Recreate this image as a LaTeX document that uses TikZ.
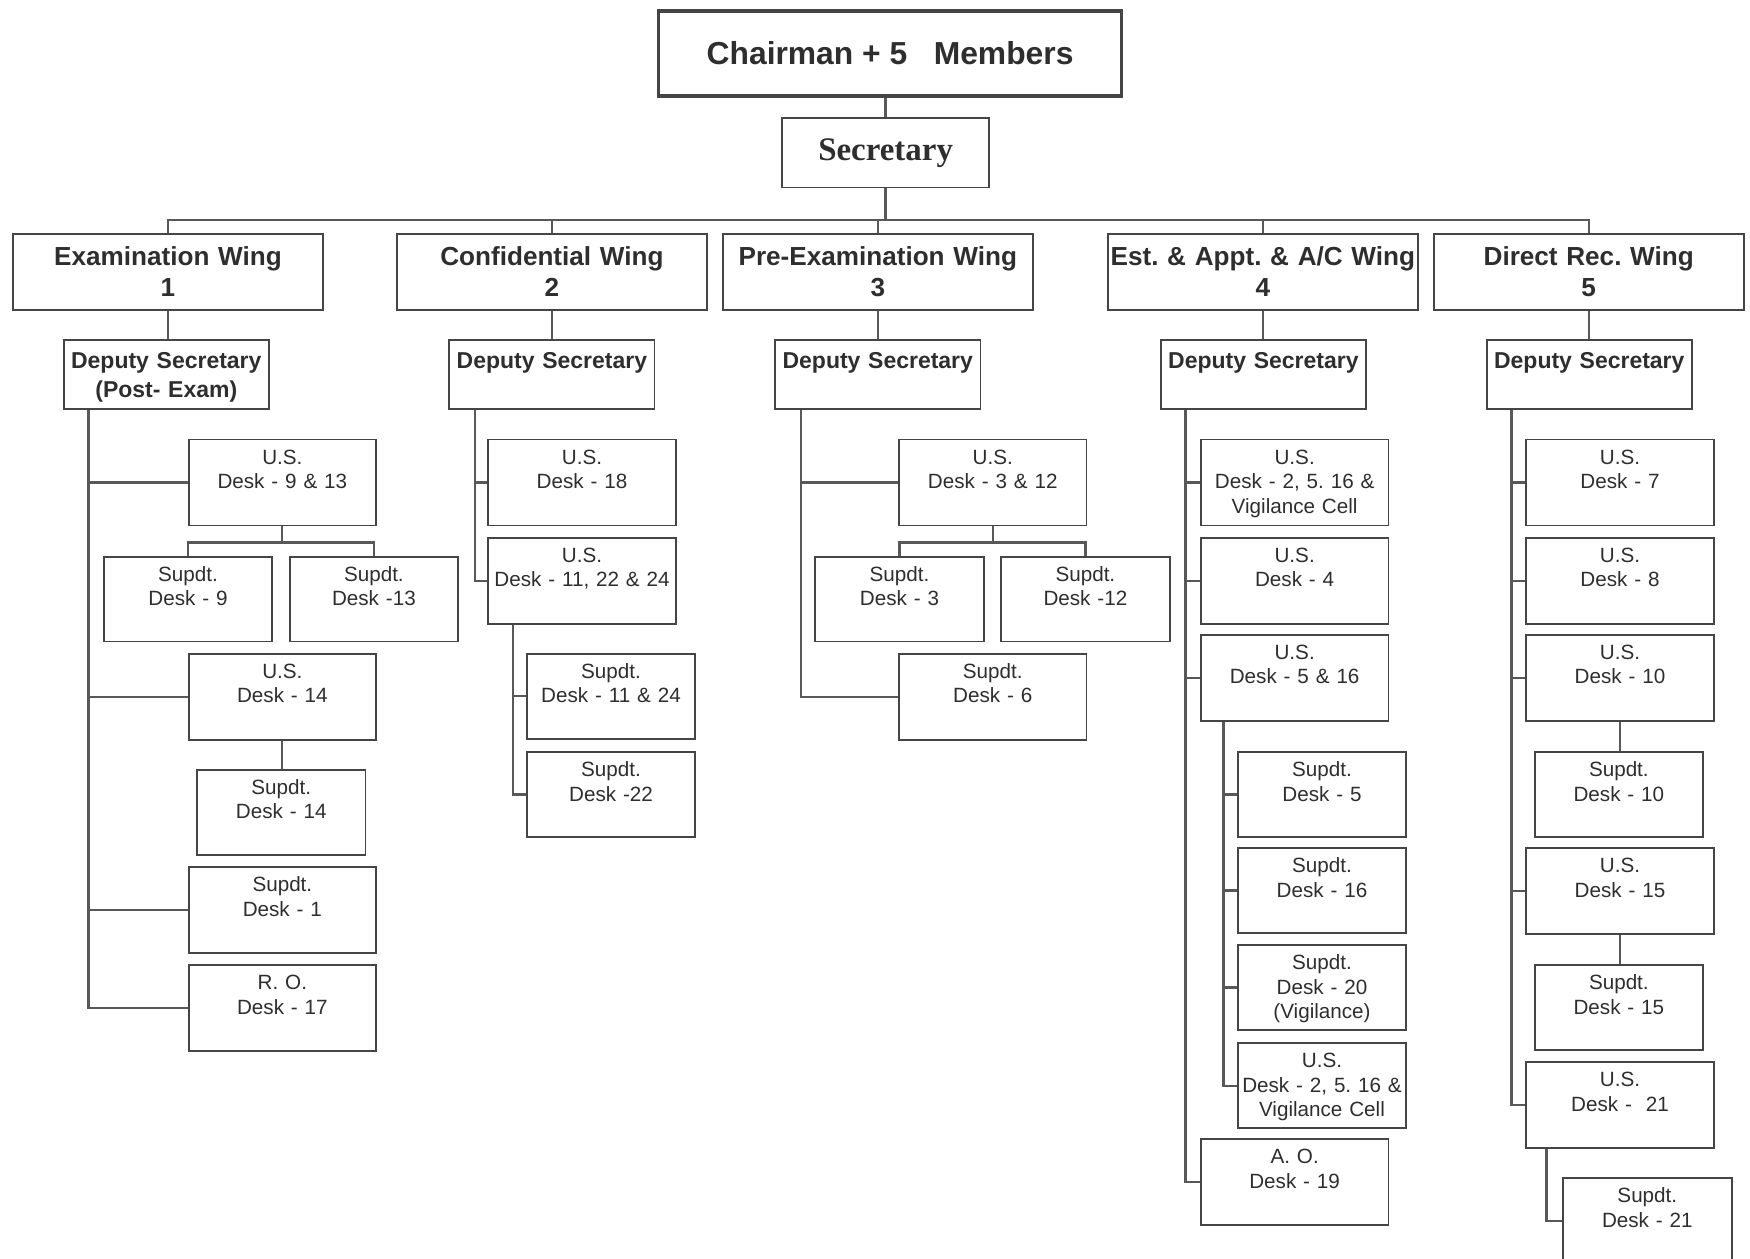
\documentclass[tikz,border=0pt]{standalone}
\usepackage{fontspec}
\setmainfont{Liberation Sans}
\newfontfamily\timesfont{Liberation Serif}
\usepackage{tikz}
\frenchspacing

\definecolor{boxline}{HTML}{454545}
\definecolor{linkgray}{HTML}{585858}
\definecolor{ink}{HTML}{2E2E2E}

\newcommand{\chairfont}{\fontsize{28.5}{34}\selectfont\bfseries}
\newcommand{\secfont}{\timesfont\fontsize{29.5}{34}\selectfont\bfseries}
\newcommand{\wingfont}{\fontsize{23.4}{28}\selectfont\bfseries}
\newcommand{\deputyfont}{\fontsize{20.6}{26}\selectfont\bfseries}
\newcommand{\deskfont}{\fontsize{18.5}{22}\selectfont}

\begin{document}
\begin{tikzpicture}[x=1pt,y=-1pt]
\tikzset{box/.style={draw=boxline,line width=1.6pt,inner sep=0pt,anchor=north,align=center,text=ink}}
\tikzset{wing/.style={box,text width=278pt,text height=28pt,text depth=40pt,font=\wingfont}}
\tikzset{deputy/.style={box,text width=184pt,text height=25.5pt,text depth=36.5pt,font=\deputyfont}}
\tikzset{deskL/.style={box,text width=168pt,text height=22pt,text depth=55pt,font=\deskfont}}
\tikzset{deskS/.style={box,text width=151pt,text height=22pt,text depth=54pt,font=\deskfont}}
\tikzset{link/.style={draw=linkgray,line width=2pt}}
\useasboundingbox (0,0) rectangle (1568,1128);
\clip (0,0) rectangle (1568,1128);

% top of the chart
\node[box,anchor=center,line width=3.2pt,minimum width=415pt,minimum height=76pt,font=\chairfont] (chair) at (797.5,48) {Chairman + 5\ \ \ Members};
\node[box,anchor=center,minimum width=185pt,minimum height=62pt,font=\secfont] (sec) at (793.5,137) {Secretary};

% wings
\node[wing] (w1) at (150.5,209) {Examination Wing\\1};
\node[wing] (w2) at (494.5,209) {Confidential Wing\\2};
\node[wing] (w3) at (786.5,209) {Pre-Examination Wing\\3};
\node[wing] (w4) at (1131.5,209) {Est. \& Appt. \& A/C Wing\\4};
\node[wing] (w5) at (1423.5,209) {Direct Rec. Wing\\5};

\node[deputy] (ds1) at (149,304) {Deputy Secretary\\(Post- Exam)};
\node[deputy] (ds2) at (494.5,304) {Deputy Secretary};
\node[deputy] (ds3) at (786.5,304) {Deputy Secretary};
\node[deputy] (ds4) at (1132,304) {Deputy Secretary};
\node[deputy] (ds5) at (1424,304) {Deputy Secretary};

% wing 1
\node[deskL] (us913) at (253,393) {U.S.\\Desk - 9 \& 13};
\node[deskS] (sd9) at (168.5,498) {Supdt.\\Desk - 9};
\node[deskS] (sd13) at (335,498) {Supdt.\\Desk -13};
\node[deskL] (us14) at (253,585) {U.S.\\Desk - 14};
\node[deskS] (sd14) at (252,689) {Supdt.\\Desk - 14};
\node[deskL] (sd1) at (253,776) {Supdt.\\Desk - 1};
\node[deskL] (ro17) at (253,864) {R. O.\\Desk - 17};

% wing 2
\node[deskL] (us18) at (521.5,393) {U.S.\\Desk - 18};
\node[deskL] (us112224) at (521.5,481) {U.S.\\Desk - 11, 22 \& 24};
\node[deskS] (sd1124) at (547.5,585) {Supdt.\\Desk - 11 \& 24};
\node[deskS] (sd22) at (547.5,673) {Supdt.\\Desk -22};

% wing 3
\node[deskL] (us312) at (889.5,393) {U.S.\\Desk - 3 \& 12};
\node[deskS] (sd3) at (806,498) {Supdt.\\Desk - 3};
\node[deskS] (sd12) at (972.5,498) {Supdt.\\Desk -12};
\node[deskL] (sd6) at (889.5,585) {Supdt.\\Desk - 6};

% wing 4
\node[deskL] (usvig) at (1160,393) {U.S.\\Desk - 2, 5. 16 \&\\Vigilance Cell};
\node[deskL] (us4) at (1160,481) {U.S.\\Desk - 4};
\node[deskL] (us516) at (1160,568) {U.S.\\Desk - 5 \& 16};
\node[deskS] (sd5) at (1184.5,673) {Supdt.\\Desk - 5};
\node[deskS] (sd16) at (1184.5,759) {Supdt.\\Desk - 16};
\node[deskS] (sd20) at (1184.5,846) {Supdt.\\Desk - 20\\(Vigilance)};
\node[deskS] (usvigb) at (1184.5,934) {U.S.\\Desk - 2, 5. 16 \&\\Vigilance Cell};
\node[deskL] (ao19) at (1160,1020) {A. O.\\Desk - 19};

% wing 5
\node[deskL] (us7) at (1451.5,393) {U.S.\\Desk - 7};
\node[deskL] (us8) at (1451.5,481) {U.S.\\Desk - 8};
\node[deskL] (us10) at (1451.5,568) {U.S.\\Desk - 10};
\node[deskS] (sd10) at (1450.5,673) {Supdt.\\Desk - 10};
\node[deskL] (us15) at (1451.5,759) {U.S.\\Desk - 15};
\node[deskS] (sd15) at (1450.5,864) {Supdt.\\Desk - 15};
\node[deskL] (us21) at (1451.5,951) {U.S.\\Desk -\ \ 21};
\node[deskS] (sd21) at (1476,1055) {Supdt.\\Desk - 21};

% connectors
\draw[link] (sec.north) -- (sec.north |- chair.south);
\draw[link,line width=3pt] (sec.south) -- ++(0,29);
\draw[link] (w1.north) -- ++(0,-12) -| (w5.north);
\foreach \w in {w2,w3,w4}
  \draw[link] (\w.north) -- ++(0,-12);
\foreach \i in {1,...,5}
  \draw[link] (w\i.south) -- (w\i.south |- ds\i.north);

\draw[link] (ds1.south west) ++(23,0) coordinate (t1) |- (ro17.west);
\foreach \n in {us913,us14,sd1}
  \draw[link] (\n.west) -- (\n.west -| t1);
\draw[link] (us913.south) -- ++(0,16);
\draw[link] (sd9.north) -- ++(0,-12) -| (sd13.north);
\draw[link] (us14.south) -- (us14.south |- sd14.north);

\draw[link] (ds2.south west) ++(24,0) coordinate (t2) |- (us112224.west);
\draw[link] (us18.west) -- (us18.west -| t2);
\draw[link] (us112224.south west) ++(23,0) coordinate (t2b) |- (sd22.west);
\draw[link] (sd1124.west) -- (sd1124.west -| t2b);

\draw[link] (ds3.south west) ++(24,0) coordinate (t3) |- (sd6.west);
\draw[link] (us312.west) -- (us312.west -| t3);
\draw[link] (us312.south) -- ++(0,16);
\draw[link] (sd3.north) -- ++(0,-12) -| (sd12.north);

\draw[link] (ds4.south west) ++(23,0) coordinate (t4) |- (ao19.west);
\foreach \n in {usvig,us4,us516}
  \draw[link] (\n.west) -- (\n.west -| t4);
\draw[link] (us516.south west) ++(21,0) coordinate (t4b) |- (usvigb.west);
\foreach \n in {sd5,sd16,sd20}
  \draw[link] (\n.west) -- (\n.west -| t4b);

\draw[link] (ds5.south west) ++(23,0) coordinate (t5) |- (us21.west);
\foreach \n in {us7,us8,us10,us15}
  \draw[link] (\n.west) -- (\n.west -| t5);
\draw[link] (us10.south) -- (us10.south |- sd10.north);
\draw[link] (us15.south) -- (us15.south |- sd15.north);
\draw[link] (us21.south west) ++(19,0) |- (sd21.west);
\end{tikzpicture}
\end{document}
